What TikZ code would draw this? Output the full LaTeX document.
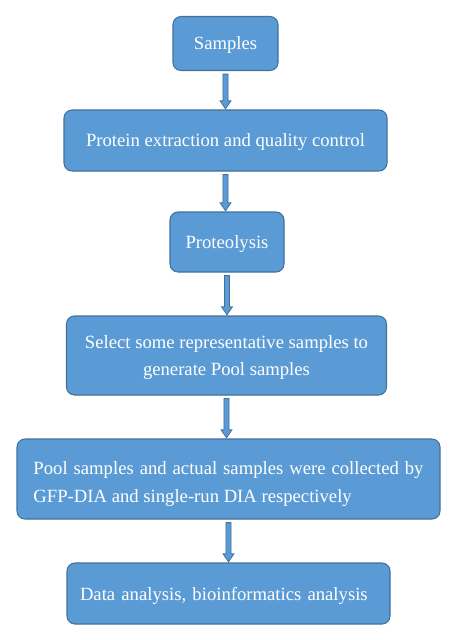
\documentclass[tikz,border=0pt]{standalone}
\usepackage{fontspec}
\setmainfont{Liberation Serif}
\usetikzlibrary{calc}
\definecolor{boxfill}{HTML}{5B9BD5}
\definecolor{boxline}{HTML}{41719C}
\tikzset{
  flowbox/.style={draw=boxline, fill=boxfill, line width=0.8pt, rounded corners=6pt,
    text=white, font=\fontsize{14pt}{20.5pt}\selectfont, inner sep=0pt, text depth=0pt},
  blockarr/.style={draw=boxline, fill=boxfill, line width=0.6pt},
}
\newcommand\blockarrow[2]{%
  \path[blockarr] let \p1=(#1.south), \p2=(#2.north) in
    (\x1-1.9pt,\y1-2.3pt) -- (\x1-1.9pt,\y2+6.5pt) -- (\x1-4.1pt,\y2+6.5pt) --
    (\x1,\y2+0.5pt) -- (\x1+4.1pt,\y2+6.5pt) -- (\x1+1.9pt,\y2+6.5pt) --
    (\x1+1.9pt,\y1-2.3pt) -- cycle;}
\begin{document}
\begin{tikzpicture}[x=0.75pt,y=-0.75pt]
\useasboundingbox[fill=white] (0,0) rectangle (458,640);
\node[flowbox, minimum width={105*0.75pt}, minimum height={54*0.75pt}] (s1) at (225.5,43.5) {Samples};
\node[flowbox, minimum width={323*0.75pt}, minimum height={61*0.75pt}] (s2) at (225.5,140.5) {Protein extraction and quality control};
\node[flowbox, minimum width={114*0.75pt}, minimum height={60*0.75pt}] (s3) at (227,242) {Proteolysis};
\node[flowbox, minimum width={320*0.75pt}, minimum height={79*0.75pt}, align=center] (s4) at (226.5,355.5) {Select some representative samples to\\generate Pool samples};
\node[flowbox, minimum width={423*0.75pt}, minimum height={80*0.75pt}, text width={390*0.75pt}, align=justify, text depth=16pt] (s5) at (228.5,479) {Pool samples and actual samples were collected by GFP-DIA and single-run DIA respectively};
\node[flowbox, minimum width={323*0.75pt}, minimum height={61*0.75pt}, text width={323*0.75pt-19.5pt}, inner xsep=9.75pt, align=left] (s6) at (228.5,593.5) {Data analysis, bioinformatics analysis};
\blockarrow{s1}{s2}
\blockarrow{s2}{s3}
\blockarrow{s3}{s4}
\blockarrow{s4}{s5}
\blockarrow{s5}{s6}
\end{tikzpicture}
\end{document}
